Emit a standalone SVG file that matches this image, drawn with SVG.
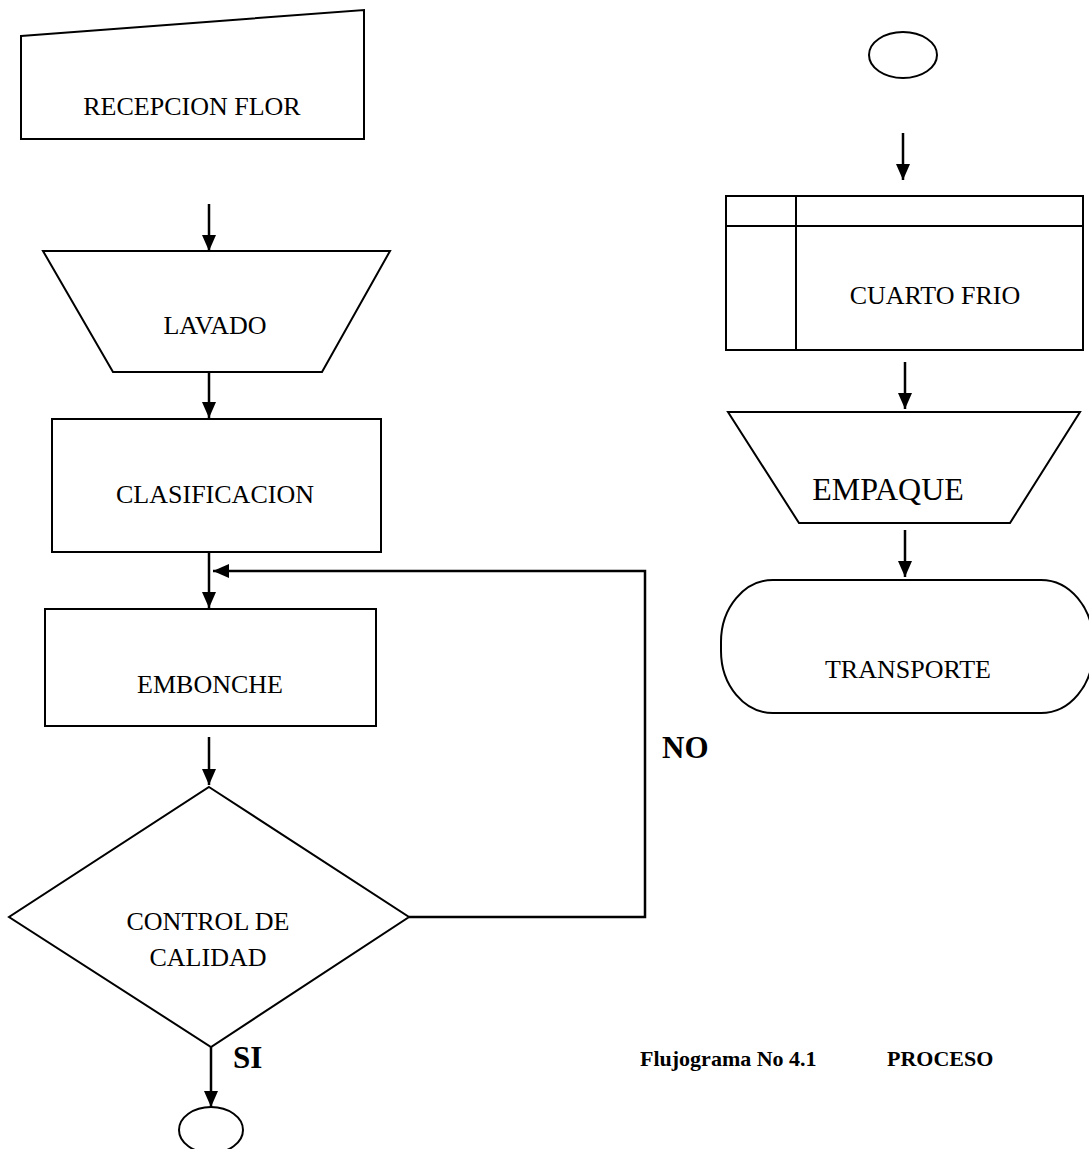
<svg xmlns="http://www.w3.org/2000/svg" width="1089" height="1149" viewBox="0 0 1089 1149">
<style>
.s{fill:#fff;stroke:#000;stroke-width:2}
.c{fill:none;stroke:#000;stroke-width:2.5}
.t{font-family:"Liberation Serif","Times New Roman",serif;font-size:26px;fill:#000;text-anchor:middle}
.b{font-family:"Liberation Serif","Times New Roman",serif;font-weight:bold;fill:#000}
</style>
<defs>
<marker id="ah" viewBox="0 0 16 14" refX="16" refY="7" markerWidth="16" markerHeight="14" markerUnits="userSpaceOnUse" orient="auto">
<path d="M0,0 L16,7 L0,14 z" fill="#000"/>
</marker>
</defs>
<rect width="1089" height="1149" fill="#fff"/>
<g id="connectors">
<line class="c" x1="209" y1="204" x2="209" y2="251" marker-end="url(#ah)"/>
<line class="c" x1="209" y1="372" x2="209" y2="418" marker-end="url(#ah)"/>
<line class="c" x1="209" y1="552" x2="209" y2="608" marker-end="url(#ah)"/>
<polyline class="c" points="409,917 645,917 645,571 213,571" marker-end="url(#ah)"/>
<line class="c" x1="209" y1="737" x2="209" y2="785" marker-end="url(#ah)"/>
<line class="c" x1="211" y1="1047" x2="211" y2="1107" marker-end="url(#ah)"/>
<line class="c" x1="903" y1="133" x2="903" y2="180" marker-end="url(#ah)"/>
<line class="c" x1="905" y1="362" x2="905" y2="409" marker-end="url(#ah)"/>
<line class="c" x1="905" y1="530" x2="905" y2="577" marker-end="url(#ah)"/>
</g>
<g id="recepcion">
<polygon class="s" points="21,36 364,10 364,139 21,139"/>
<text class="t" x="192" y="115">RECEPCION FLOR</text>
</g>
<g id="lavado">
<polygon class="s" points="43,251 390,251 322,372 113,372"/>
<text class="t" x="215" y="334">LAVADO</text>
</g>
<g id="clasificacion">
<rect class="s" x="52" y="419" width="329" height="133"/>
<text class="t" x="215" y="503">CLASIFICACION</text>
</g>
<g id="embonche">
<rect class="s" x="45" y="609" width="331" height="117"/>
<text class="t" x="210" y="693">EMBONCHE</text>
</g>
<g id="control">
<polygon class="s" points="209,787 409,917 211,1047 9,917"/>
<text class="t" x="208" y="930">CONTROL DE</text>
<text class="t" x="208" y="966">CALIDAD</text>
</g>
<g id="conector-fin">
<ellipse class="s" cx="211" cy="1130" rx="32" ry="23"/>
</g>
<g id="conector-inicio">
<ellipse class="s" cx="903" cy="55" rx="34" ry="23"/>
</g>
<g id="cuarto-frio">
<rect class="s" x="726" y="196" width="357" height="154"/>
<line class="s" x1="726" y1="226" x2="1083" y2="226"/>
<line class="s" x1="796" y1="196" x2="796" y2="350"/>
<text class="t" x="935" y="304">CUARTO FRIO</text>
</g>
<g id="empaque">
<polygon class="s" points="728,412 1080,412 1010,523 799,523"/>
<text class="t" x="888" y="500" style="font-size:32px">EMPAQUE</text>
</g>
<g id="transporte">
<rect class="s" x="721" y="580" width="372" height="133" rx="52" ry="62"/>
<text class="t" x="908" y="678">TRANSPORTE</text>
</g>
<g id="labels">
<text class="b" x="662" y="758" style="font-size:31px">NO</text>
<text class="b" x="233" y="1068" style="font-size:31px">SI</text>
<text class="b" x="640" y="1066" style="font-size:22px">Flujograma No 4.1</text>
<text class="b" x="887" y="1066" style="font-size:22px">PROCESO</text>
</g>
</svg>
